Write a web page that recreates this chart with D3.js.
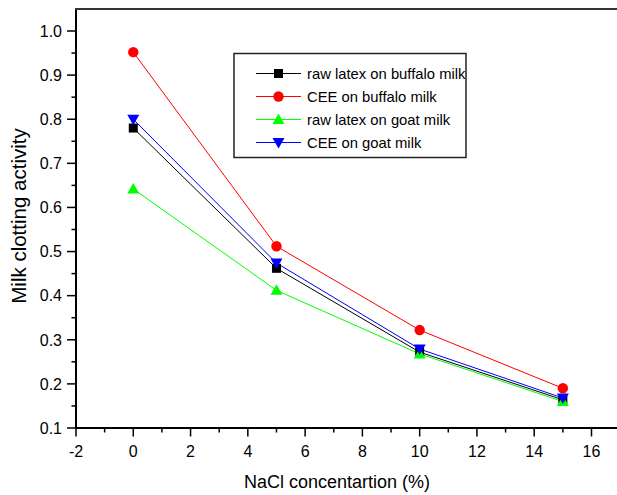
<!DOCTYPE html>
<html>
<head>
<meta charset="utf-8">
<script src="https://cdn.jsdelivr.net/npm/d3@7"></script>
<style>
  body { margin: 0; background: #fff; }
  text { font-family: "Liberation Sans", Arial, sans-serif; fill: #000; }
</style>
</head>
<body>
<div class="main"></div>
<script>
//// data
const nacl = [0, 5, 10, 15];
const rawBuffalo = [0.78, 0.462, 0.272, 0.164];
const ceeBuffalo = [0.952, 0.512, 0.322, 0.19];
const rawGoat = [0.642, 0.412, 0.268, 0.16];
const ceeGoat = [0.80, 0.474, 0.279, 0.168];
const seriesNames = ['raw latex on buffalo milk', 'CEE on buffalo milk', 'raw latex on goat milk', 'CEE on goat milk'];
const seriesColors = ['#000000', '#ff0000', '#00ff00', '#0000ff'];
const seriesShapes = ['square', 'circle', 'triangle', 'triangleDown'];
const xTicks = [-2, 0, 2, 4, 6, 8, 10, 12, 14, 16];
const yTicks = [0.1, 0.2, 0.3, 0.4, 0.5, 0.6, 0.7, 0.8, 0.9, 1.0];

const width = 617;
const height = 495;
const svg = d3.select('.main').append('svg')
  .attr('width', width)
  .attr('height', height);

const x = d3.scaleLinear().domain([-2, 16]).range([76, 591.5]);
const y = d3.scaleLinear().domain([0.1, 1.0]).range([428, 31]);
const plotTop = y(1.05);

const series = [rawBuffalo, ceeBuffalo, rawGoat, ceeGoat].map((vals, i) => ({
  name: seriesNames[i],
  color: seriesColors[i],
  shape: seriesShapes[i],
  points: nacl.map((n, j) => ({ x: n, y: vals[j] }))
}));

function marker(g, shape, color) {
  if (shape === 'square') {
    g.append('rect').attr('x', -4.5).attr('y', -4.5).attr('width', 9).attr('height', 9).attr('fill', color);
  } else if (shape === 'circle') {
    g.append('circle').attr('r', 5.2).attr('fill', color);
  } else if (shape === 'triangle') {
    g.append('path').attr('d', 'M0,-6L6,4.5L-6,4.5Z').attr('fill', color);
  } else {
    g.append('path').attr('d', 'M0,6L6,-4.5L-6,-4.5Z').attr('fill', color);
  }
}

// axes
const xAxis = svg.append('g').attr('transform', `translate(0,${y(0.1)})`);
xAxis.append('line').attr('x1', 75).attr('x2', width).attr('stroke', '#000').attr('stroke-width', 2);
xAxis.selectAll('.minor').data(d3.range(-1, 18, 2)).enter().append('line')
  .attr('x1', d => x(d)).attr('x2', d => x(d)).attr('y1', 0).attr('y2', 4.5)
  .attr('stroke', '#000').attr('stroke-width', 1.5);
xAxis.selectAll('.major').data(xTicks).enter().append('line')
  .attr('x1', d => x(d)).attr('x2', d => x(d)).attr('y1', 0).attr('y2', 8.5)
  .attr('stroke', '#000').attr('stroke-width', 1.5);
xAxis.selectAll('.lbl').data(xTicks).enter().append('text')
  .attr('x', d => x(d)).attr('y', 29).attr('text-anchor', 'middle')
  .attr('font-size', 16).text(d => d);

const yAxis = svg.append('g').attr('transform', `translate(${x(-2)},0)`);
yAxis.append('line').attr('y1', plotTop).attr('y2', y(0.1) + 1).attr('stroke', '#000').attr('stroke-width', 2);
yAxis.selectAll('.minor').data(d3.range(0.15, 1.0, 0.1)).enter().append('line')
  .attr('y1', d => y(d)).attr('y2', d => y(d)).attr('x1', 0).attr('x2', -4.5)
  .attr('stroke', '#000').attr('stroke-width', 1.5);
yAxis.selectAll('.major').data(yTicks).enter().append('line')
  .attr('y1', d => y(d)).attr('y2', d => y(d)).attr('x1', 0).attr('x2', -9)
  .attr('stroke', '#000').attr('stroke-width', 1.5);
yAxis.selectAll('.lbl').data(yTicks).enter().append('text')
  .attr('x', -14).attr('y', d => y(d)).attr('dy', '0.36em').attr('text-anchor', 'end')
  .attr('font-size', 16).text(d => d3.format('.1f')(d));

// top frame line
svg.append('line').attr('x1', 75).attr('x2', width).attr('y1', plotTop).attr('y2', plotTop)
  .attr('stroke', '#333').attr('stroke-width', 2);

// axis titles
svg.append('text').attr('x', 337).attr('y', 488).attr('text-anchor', 'middle')
  .attr('font-size', 18).text('NaCl concentartion (%)');
svg.append('text').attr('transform', `translate(26,216) rotate(-90)`)
  .attr('text-anchor', 'middle').attr('font-size', 20.5).text('Milk clotting activity');

// series
const line = d3.line().x(d => x(d.x)).y(d => y(d.y));
series.forEach(s => {
  svg.append('path').datum(s.points).attr('d', line)
    .attr('fill', 'none').attr('stroke', s.color).attr('stroke-width', 1);
});
series.forEach(s => {
  svg.append('g').selectAll('g').data(s.points).enter().append('g')
    .attr('transform', d => `translate(${x(d.x)},${y(d.y)})`)
    .each(function() { marker(d3.select(this), s.shape, s.color); });
});

// legend
const legend = svg.append('g');
legend.append('rect').attr('x', 234).attr('y', 53.5).attr('width', 232).attr('height', 104)
  .attr('fill', '#fff').attr('stroke', '#222').attr('stroke-width', 1.5);
series.forEach((s, i) => {
  const ly = 73.5 + i * 23;
  legend.append('line').attr('x1', 256).attr('x2', 301).attr('y1', ly).attr('y2', ly)
    .attr('stroke', s.color).attr('stroke-width', 1);
  marker(legend.append('g').attr('transform', `translate(278.5,${ly})`), s.shape, s.color);
  legend.append('text').attr('x', 307).attr('y', ly).attr('dy', '0.36em')
    .attr('font-size', 14.8).text(s.name);
});
</script>
</body>
</html>
